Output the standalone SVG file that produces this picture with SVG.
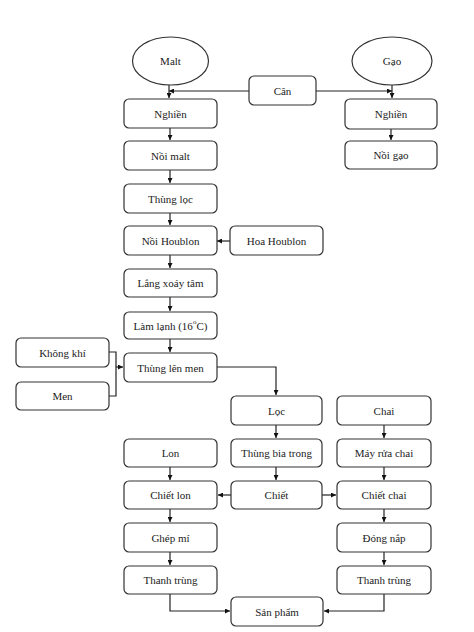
<svg xmlns="http://www.w3.org/2000/svg" width="474" height="632" viewBox="0 0 474 632">
<style>
.n{fill:#fff;stroke:#333;stroke-width:1.2}
.t{font-family:"Liberation Serif","Times New Roman",serif;font-size:11px;fill:#222;text-anchor:middle;dominant-baseline:central}
.c{fill:none;stroke:#222;stroke-width:1.2}
</style>
<defs>
<marker id="a" viewBox="0 0 10 10" refX="10" refY="5" markerWidth="5" markerHeight="5" orient="auto" markerUnits="userSpaceOnUse"><path d="M0,0L10,5L0,10z" fill="#111"/></marker>
</defs>
<rect width="474" height="632" fill="#fff"/>
<g id="connectors">
<path class="c" d="M169,85V98" marker-end="url(#a)"/>
<path class="c" d="M249,91H169" marker-end="url(#a)"/>
<path class="c" d="M392,85V98" marker-end="url(#a)"/>
<path class="c" d="M316,91H392" marker-end="url(#a)"/>
<path class="c" d="M391,129V140" marker-end="url(#a)"/>
<path class="c" d="M170,128V140" marker-end="url(#a)"/>
<path class="c" d="M170,170V183" marker-end="url(#a)"/>
<path class="c" d="M170,213V225" marker-end="url(#a)"/>
<path class="c" d="M230,241H217" marker-end="url(#a)"/>
<path class="c" d="M170,255V268" marker-end="url(#a)"/>
<path class="c" d="M170,297V311" marker-end="url(#a)"/>
<path class="c" d="M170,339V352" marker-end="url(#a)"/>
<path class="c" d="M109,352H116V396H109"/>
<path class="c" d="M116,367H123" marker-end="url(#a)"/>
<path class="c" d="M217,367H276V395" marker-end="url(#a)"/>
<path class="c" d="M276,425V438" marker-end="url(#a)"/>
<path class="c" d="M384,425V438" marker-end="url(#a)"/>
<path class="c" d="M170,467V480" marker-end="url(#a)"/>
<path class="c" d="M276,467V480" marker-end="url(#a)"/>
<path class="c" d="M384,467V480" marker-end="url(#a)"/>
<path class="c" d="M231,495H218" marker-end="url(#a)"/>
<path class="c" d="M322,495H336" marker-end="url(#a)"/>
<path class="c" d="M170,509V522" marker-end="url(#a)"/>
<path class="c" d="M384,509V522" marker-end="url(#a)"/>
<path class="c" d="M170,552V565" marker-end="url(#a)"/>
<path class="c" d="M384,552V565" marker-end="url(#a)"/>
<path class="c" d="M170,594V611H230" marker-end="url(#a)"/>
<path class="c" d="M384,594V611H324" marker-end="url(#a)"/>
</g>
<g id="malt"><ellipse class="n" cx="170.5" cy="61" rx="38" ry="24"/><text class="t" x="170.5" y="61">Malt</text></g>
<g id="gao"><ellipse class="n" cx="392" cy="61" rx="40" ry="24"/><text class="t" x="392" y="61">Gạo</text></g>
<g id="can"><rect class="n" x="249" y="76" width="67" height="29" rx="5"/><text class="t" x="282.5" y="90.5">Cân</text></g>
<g id="nghien1"><rect class="n" x="124" y="99" width="93" height="29" rx="5"/><text class="t" x="170.5" y="113.5">Nghiền</text></g>
<g id="nghien2"><rect class="n" x="345" y="99" width="92" height="30" rx="5"/><text class="t" x="391" y="114">Nghiền</text></g>
<g id="noigao"><rect class="n" x="345" y="141" width="92" height="28" rx="5"/><text class="t" x="391" y="155">Nồi gạo</text></g>
<g id="noimalt"><rect class="n" x="124" y="141" width="93" height="29" rx="5"/><text class="t" x="170.5" y="155.5">Nồi malt</text></g>
<g id="thungloc"><rect class="n" x="124" y="184" width="93" height="29" rx="5"/><text class="t" x="170.5" y="198.5">Thùng lọc</text></g>
<g id="noihoublon"><rect class="n" x="124" y="226" width="93" height="29" rx="5"/><text class="t" x="170.5" y="240.5">Nồi Houblon</text></g>
<g id="hoahoublon"><rect class="n" x="230" y="226" width="93" height="29" rx="5"/><text class="t" x="276.5" y="240.5">Hoa Houblon</text></g>
<g id="lang"><rect class="n" x="124" y="269" width="93" height="28" rx="5"/><text class="t" x="170.5" y="283">Lắng xoáy tâm</text></g>
<g id="lamlanh"><rect class="n" x="124" y="312" width="93" height="27" rx="5"/><text class="t" x="170.5" y="325.5">Làm lạnh (16<tspan font-size="7" dy="-4">o</tspan><tspan dy="4">C)</tspan></text></g>
<g id="khongkhi"><rect class="n" x="16" y="338" width="93" height="29" rx="5"/><text class="t" x="62.5" y="352.5">Không khí</text></g>
<g id="men"><rect class="n" x="16" y="382" width="93" height="28" rx="5"/><text class="t" x="62.5" y="396">Men</text></g>
<g id="thunglenmen"><rect class="n" x="124" y="353" width="93" height="29" rx="5"/><text class="t" x="170.5" y="367.5">Thùng lên men</text></g>
<g id="loc"><rect class="n" x="231" y="396" width="91" height="29" rx="5"/><text class="t" x="276.5" y="410.5">Lọc</text></g>
<g id="chai"><rect class="n" x="337" y="396" width="94" height="29" rx="5"/><text class="t" x="384" y="410.5">Chai</text></g>
<g id="lon"><rect class="n" x="124" y="439" width="93" height="28" rx="5"/><text class="t" x="170.5" y="453">Lon</text></g>
<g id="thungbiatrong"><rect class="n" x="231" y="439" width="91" height="28" rx="5"/><text class="t" x="276.5" y="453">Thùng bia trong</text></g>
<g id="mayruachai"><rect class="n" x="337" y="439" width="94" height="28" rx="5"/><text class="t" x="384" y="453">Máy rửa chai</text></g>
<g id="chietlon"><rect class="n" x="124" y="481" width="93" height="28" rx="5"/><text class="t" x="170.5" y="495">Chiết lon</text></g>
<g id="chiet"><rect class="n" x="231" y="481" width="91" height="28" rx="5"/><text class="t" x="276.5" y="495">Chiết</text></g>
<g id="chietchai"><rect class="n" x="337" y="481" width="94" height="28" rx="5"/><text class="t" x="384" y="495">Chiết chai</text></g>
<g id="ghepmi"><rect class="n" x="124" y="523" width="93" height="29" rx="5"/><text class="t" x="170.5" y="537.5">Ghép mí</text></g>
<g id="dongnap"><rect class="n" x="337" y="523" width="94" height="29" rx="5"/><text class="t" x="384" y="537.5">Đóng nắp</text></g>
<g id="thanhtrung1"><rect class="n" x="124" y="566" width="93" height="28" rx="5"/><text class="t" x="170.5" y="580">Thanh trùng</text></g>
<g id="thanhtrung2"><rect class="n" x="337" y="566" width="94" height="28" rx="5"/><text class="t" x="384" y="580">Thanh trùng</text></g>
<g id="sanpham"><rect class="n" x="231" y="597" width="92" height="29" rx="5"/><text class="t" x="277" y="611.5">Sản phẩm</text></g>
</svg>
